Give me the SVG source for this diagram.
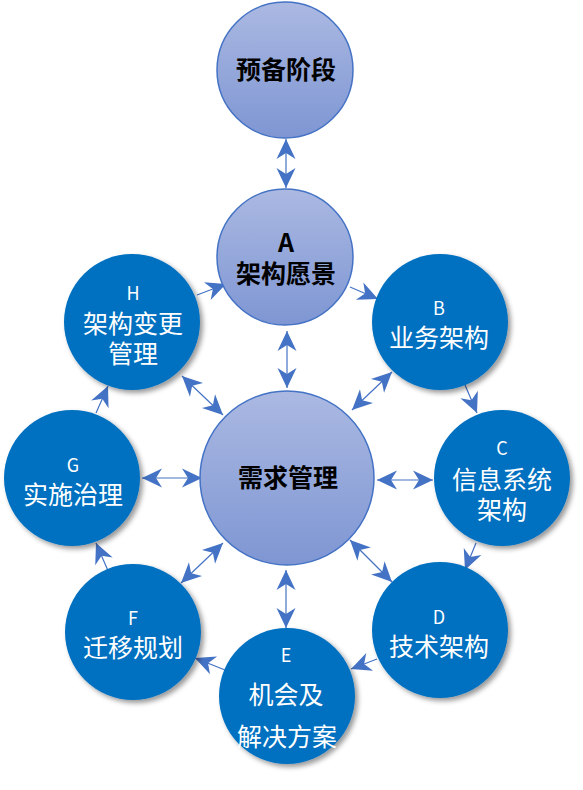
<svg xmlns="http://www.w3.org/2000/svg" width="583" height="790" viewBox="0 0 583 790">
<style>
.lc{fill:url(#lg);stroke:#4472c4;stroke-width:1.5}
.dc{fill:#0070c0;filter:url(#sh)}
.bt{font-family:"Noto Sans CJK SC","Noto Sans",sans-serif;font-weight:bold;font-size:25px;fill:#000;text-anchor:middle}
.wt{font-family:"Noto Sans CJK SC","Noto Sans",sans-serif;font-size:25px;fill:#fff;text-anchor:middle}
.wl{font-size:18px}
.ar{stroke:#4472c4;stroke-width:1.2;fill:none;marker-end:url(#ah)}
.da{marker-start:url(#ah)}
</style>
<defs>
<linearGradient id="lg" x1="0" y1="0" x2="0" y2="1">
<stop offset="0" stop-color="#abb9e2"/>
<stop offset="1" stop-color="#7e96d3"/>
</linearGradient>
<filter id="sh" x="-20%" y="-20%" width="150%" height="150%">
<feDropShadow dx="3" dy="3" stdDeviation="2.5" flood-color="#000" flood-opacity="0.4"/>
</filter>
<marker id="ah" viewBox="-21 -11 22 22" refX="0" refY="0" markerWidth="22" markerHeight="22" markerUnits="userSpaceOnUse" orient="auto-start-reverse">
<path d="M0,0 L-20,-9.5 L-14,0 L-20,9.5 Z" fill="#4472c4"/>
</marker>
</defs>
<g id="connectors">
<line class="ar da" x1="286" y1="139" x2="286" y2="188"/>
<line class="ar da" x1="287" y1="331" x2="287" y2="388"/>
<line class="ar" x1="197" y1="295" x2="226" y2="284"/>
<line class="ar" x1="350" y1="287" x2="378" y2="299"/>
<line class="ar" x1="465" y1="385" x2="477" y2="413"/>
<line class="ar" x1="476" y1="543" x2="465" y2="570"/>
<line class="ar" x1="377" y1="659" x2="351" y2="669"/>
<line class="ar" x1="225" y1="670" x2="195" y2="658"/>
<line class="ar" x1="109" y1="573" x2="96" y2="543"/>
<line class="ar" x1="96" y1="413" x2="108" y2="386"/>
<line class="ar da" x1="352" y1="410" x2="392" y2="372"/>
<line class="ar da" x1="377" y1="480" x2="433" y2="480"/>
<line class="ar da" x1="350" y1="540" x2="392" y2="582"/>
<line class="ar da" x1="286" y1="570" x2="286" y2="628"/>
<line class="ar da" x1="223" y1="543" x2="181" y2="583"/>
<line class="ar da" x1="142" y1="478" x2="202" y2="478"/>
<line class="ar da" x1="182" y1="376" x2="223" y2="415"/>
</g>
<g id="prep">
<circle class="lc" cx="285" cy="70" r="68"/>
<text class="bt" x="286" y="79">预备阶段</text>
</g>
<g id="A">
<circle class="lc" cx="285" cy="257" r="68"/>
<text class="bt"><tspan x="286" y="252">A</tspan><tspan x="286" y="282.5">架构愿景</tspan></text>
</g>
<g id="center">
<circle class="lc" cx="287" cy="478" r="87"/>
<text class="bt" x="288" y="487">需求管理</text>
</g>
<g id="B">
<circle class="dc" cx="440" cy="322" r="68"/>
<text class="wt"><tspan class="wl" x="439" y="314.5">B</tspan><tspan x="439" y="347">业务架构</tspan></text>
</g>
<g id="C">
<circle class="dc" cx="502" cy="478" r="68"/>
<text class="wt"><tspan class="wl" x="502" y="454.5">C</tspan><tspan x="502" y="489">信息系统</tspan><tspan x="502" y="519">架构</tspan></text>
</g>
<g id="D">
<circle class="dc" cx="440" cy="630" r="68"/>
<text class="wt"><tspan class="wl" x="439" y="623.5">D</tspan><tspan x="439" y="656">技术架构</tspan></text>
</g>
<g id="E">
<circle class="dc" cx="287" cy="696" r="68"/>
<text class="wt"><tspan class="wl" x="286" y="661.5">E</tspan><tspan x="286" y="704">机会及</tspan><tspan x="287" y="746">解决方案</tspan></text>
</g>
<g id="F">
<circle class="dc" cx="133" cy="632" r="68"/>
<text class="wt"><tspan class="wl" x="133" y="624.5">F</tspan><tspan x="133" y="657">迁移规划</tspan></text>
</g>
<g id="G">
<circle class="dc" cx="72" cy="478" r="68"/>
<text class="wt"><tspan class="wl" x="73" y="471.5">G</tspan><tspan x="73" y="504">实施治理</tspan></text>
</g>
<g id="H">
<circle class="dc" cx="132" cy="322" r="68"/>
<text class="wt"><tspan class="wl" x="133" y="299.5">H</tspan><tspan x="133" y="333">架构变更</tspan><tspan x="133" y="363">管理</tspan></text>
</g>
</svg>
